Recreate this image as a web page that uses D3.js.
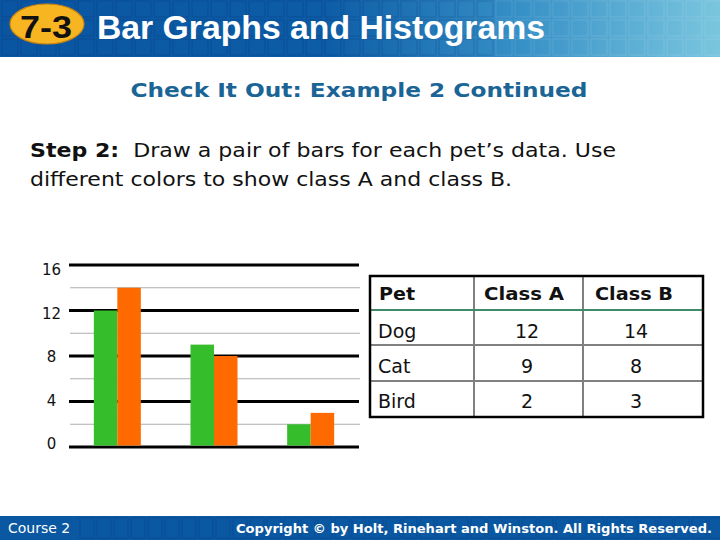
<!DOCTYPE html>
<html><head><meta charset="utf-8">
<script src="https://cdn.jsdelivr.net/npm/d3@7"></script>
<style>html,body{margin:0;padding:0;background:#fff;}svg{display:block;}</style>
</head><body>
<script>
const categories = ["Dog", "Cat", "Bird"];
const series = ["Class A", "Class B"];
const classA = [12, 9, 2];
const classB = [14, 8, 3];
const yTicks = [0, 4, 8, 12, 16];
const yMinorTicks = [2, 6, 10, 14];
const tableHeader = ["Pet", "Class A", "Class B"];

const W = 720, H = 540;
const svg = d3.select("body").append("svg").attr("width", W).attr("height", H);
const defs = svg.append("defs");
const grad = defs.append("linearGradient").attr("id", "hdr").attr("x1", 0).attr("x2", 1).attr("y1", 0).attr("y2", 0);
[[0, "#0A55A1"], [0.45, "#0D5CA6"], [0.72, "#3690C6"], [1, "#7AC6DF"]].forEach(s => grad.append("stop").attr("offset", s[0]).attr("stop-color", s[1]));

// Header band
svg.append("rect").attr("x", 0).attr("y", 0).attr("width", W).attr("height", 57).attr("fill", "url(#hdr)");
const hdrGrid = svg.append("g");
for (let i = 0; i < 38; i++) for (let j = 0; j < 3; j++) {
  hdrGrid.append("rect").attr("x", 2 + i * 19).attr("y", 1 + j * 19).attr("width", 16).attr("height", 16)
    .attr("fill", "none").attr("stroke", i > 25 ? "rgba(255,255,255,0.12)" : "rgba(0,30,90,0.18)").attr("stroke-width", 1);
}
svg.append("ellipse").attr("cx", 47).attr("cy", 24).attr("rx", 37).attr("ry", 20).attr("fill", "#F8B522").attr("stroke", "#C88410").attr("stroke-width", 1.2);
svg.append("text").attr("x", 20).attr("y", 38)
  .attr("font-family", "Liberation Sans, Arial, sans-serif").attr("font-weight", "bold").attr("font-size", 31).attr("fill", "#111")
  .attr("textLength", 52).attr("lengthAdjust", "spacingAndGlyphs").text("7-3");
svg.append("text").attr("x", 97).attr("y", 39)
  .attr("font-family", "Liberation Sans, Arial, sans-serif").attr("font-weight", "bold").attr("font-size", 33).attr("fill", "#fff")
  .attr("textLength", 448).attr("lengthAdjust", "spacingAndGlyphs").text("Bar Graphs and Histograms");

// Footer band
svg.append("rect").attr("x", 0).attr("y", 516).attr("width", W).attr("height", 24).attr("fill", "#0A58A2");
const ftGrid = svg.append("g");
for (let i = 0; i < 38; i++) {
  ftGrid.append("rect").attr("x", 80 + i * 17).attr("y", 518).attr("width", 14).attr("height", 20)
    .attr("fill", "none").attr("stroke", "rgba(0,30,90,0.18)");
}
svg.append("text").attr("x", 8).attr("y", 533).attr("font-family", "DejaVu Sans, Verdana, sans-serif").attr("font-size", 14).attr("fill", "#fff").text("Course 2");
svg.append("text").attr("x", 712).attr("y", 533).attr("text-anchor", "end")
  .attr("font-family", "DejaVu Sans Condensed, DejaVu Sans, sans-serif").attr("font-weight", "bold").attr("font-size", 13).attr("fill", "#fff")
  .attr("textLength", 476).attr("lengthAdjust", "spacingAndGlyphs").text("Copyright © by Holt, Rinehart and Winston. All Rights Reserved.");

// Subtitle and instructions
svg.append("text").attr("x", 359).attr("y", 97).attr("text-anchor", "middle")
  .attr("font-family", "DejaVu Sans, Verdana, sans-serif").attr("font-weight", "bold").attr("font-size", 20).attr("fill", "#1A6496")
  .attr("textLength", 457).attr("lengthAdjust", "spacingAndGlyphs").text("Check It Out: Example 2 Continued");
const l1 = svg.append("text").attr("x", 30).attr("y", 157).attr("font-family", "DejaVu Sans, Verdana, sans-serif").attr("font-size", 19).attr("fill", "#111")
  .attr("textLength", 586).attr("lengthAdjust", "spacingAndGlyphs");
l1.append("tspan").attr("font-weight", "bold").text("Step 2:");
l1.append("tspan").text("\u00a0 Draw a pair of bars for each pet\u2019s data. Use");
svg.append("text").attr("x", 30).attr("y", 186).attr("font-family", "DejaVu Sans, Verdana, sans-serif").attr("font-size", 19).attr("fill", "#111")
  .attr("textLength", 482).attr("lengthAdjust", "spacingAndGlyphs").text("different colors to show class A and class B.");

// Chart
const x0 = d3.scaleBand().domain(categories).range([69, 359]).padding(0);
const groupW = 47;
const x1 = d3.scaleBand().domain(series).range([0, groupW]).padding(0);
const y = d3.scaleLinear().domain([0, 16]).range([447, 265]);
const yLabel = d3.scaleLinear().domain([0, 16]).range([444, 270]);
const color = d3.scaleOrdinal().domain(series).range(["#35BD2C", "#FF6A00"]);

const g = svg.append("g");
g.selectAll("line.minor").data(yMinorTicks).join("line").attr("class", "minor")
  .attr("x1", 70).attr("x2", 360).attr("y1", d => y(d)).attr("y2", d => y(d)).attr("stroke", "#AFAFAF").attr("stroke-width", 1);
g.selectAll("line.major").data(yTicks).join("line").attr("class", "major")
  .attr("x1", 69).attr("x2", 359).attr("y1", d => y(d)).attr("y2", d => y(d)).attr("stroke", "#000").attr("stroke-width", 3);
g.selectAll("text.tick").data(yTicks).join("text").attr("class", "tick")
  .attr("x", 51.5).attr("y", d => yLabel(d)).attr("dy", "0.36em").attr("text-anchor", "middle")
  .attr("font-family", "DejaVu Sans, Verdana, sans-serif").attr("font-size", 15).attr("fill", "#111").text(d => d);

const rows = categories.map((c, i) => ({ cat: c, vals: [classA[i], classB[i]] }));
const groups = g.selectAll("g.grp").data(rows).join("g").attr("class", "grp")
  .attr("transform", d => `translate(${x0(d.cat) + (x0.bandwidth() - groupW) / 2},0)`);
groups.selectAll("rect").data(d => d.vals.map((v, k) => ({ s: series[k], v }))).join("rect")
  .attr("x", d => x1(d.s)).attr("width", x1.bandwidth())
  .attr("y", d => y(d.v)).attr("height", d => y(0) - 1.5 - y(d.v))
  .attr("fill", d => color(d.s));

// Table
const tX = [370, 474, 583, 703];
const tY = [276, 310, 345, 381, 417];
const tg = svg.append("g");
const tableRows = categories.map((c, i) => [c, classA[i], classB[i]]);
[tX[1], tX[2]].forEach(xv => tg.append("line").attr("x1", xv).attr("x2", xv).attr("y1", tY[0]).attr("y2", tY[4]).attr("stroke", "#808080").attr("stroke-width", 2));
[tY[2], tY[3]].forEach(yv => tg.append("line").attr("x1", tX[0]).attr("x2", tX[3]).attr("y1", yv).attr("y2", yv).attr("stroke", "#808080").attr("stroke-width", 2));
tg.append("line").attr("x1", tX[0]).attr("x2", tX[3]).attr("y1", tY[1]).attr("y2", tY[1]).attr("stroke", "#3E8A6A").attr("stroke-width", 2);
tg.append("rect").attr("x", tX[0]).attr("y", tY[0]).attr("width", tX[3] - tX[0]).attr("height", tY[4] - tY[0])
  .attr("fill", "none").attr("stroke", "#000").attr("stroke-width", 2.5);
const headX = [379, 524, 634];
const headLen = [36, 80, 78];
const cellX = [378, 527, 636];
const rowBase = [338, 373, 408];
tableHeader.forEach((h, k) => {
  tg.append("text").attr("x", headX[k]).attr("y", 300).attr("text-anchor", k === 0 ? "start" : "middle")
    .attr("font-family", "DejaVu Sans, Verdana, sans-serif").attr("font-weight", "bold").attr("font-size", 18).attr("fill", "#111")
    .attr("textLength", headLen[k]).attr("lengthAdjust", "spacingAndGlyphs").text(h);
});
tableRows.forEach((r, i) => {
  r.forEach((v, k) => {
    tg.append("text").attr("x", cellX[k]).attr("y", rowBase[i]).attr("text-anchor", k === 0 ? "start" : "middle")
      .attr("font-family", "DejaVu Sans, Verdana, sans-serif").attr("font-size", 19).attr("fill", "#111").text(v);
  });
});
</script>
</body></html>
